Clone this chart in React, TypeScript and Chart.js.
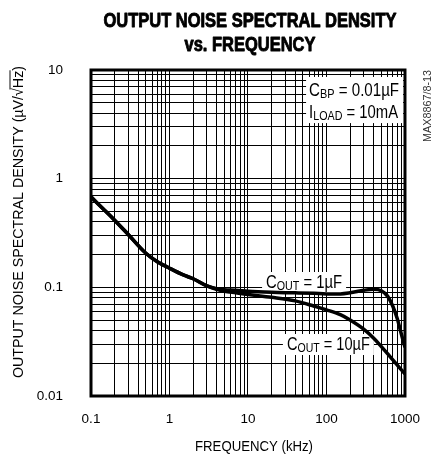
import React, { useEffect, useRef } from "react";
import { Chart, registerables } from "chart.js";

Chart.register(...registerables);

// ---- data ----
const freqKHz = [0.1, 0.15, 0.2, 0.3, 0.5, 0.7, 1, 1.5, 2, 3, 4, 5, 7, 10, 20, 40, 70, 100, 150, 200, 300, 400, 500, 600, 700, 800, 900, 1000];
const noiseCout1uF = [0.68, 0.51, 0.415, 0.305, 0.206, 0.172, 0.15, 0.13, 0.12, 0.103, 0.097, 0.095, 0.094, 0.092, 0.09, 0.089, 0.088, 0.087, 0.087, 0.089, 0.094, 0.096, 0.093, 0.083, 0.067, 0.051, 0.037, 0.028];
const noiseCout10uF = [0.68, 0.51, 0.415, 0.305, 0.206, 0.172, 0.15, 0.13, 0.12, 0.103, 0.096, 0.092, 0.089, 0.086, 0.081, 0.075, 0.067, 0.062, 0.056, 0.05, 0.041, 0.034, 0.0285, 0.0245, 0.0215, 0.0192, 0.0174, 0.016];

const xTickLabels = ["0.1", "1", "10", "100", "1000"];
const yTickLabels = ["0.01", "0.1", "1", "10"];
const minorSteps = [1, 2, 3, 4, 5, 6, 7, 8, 9];

const titleLines = ["OUTPUT NOISE SPECTRAL DENSITY", "vs. FREQUENCY"];
const xTitle = "FREQUENCY (kHz)";
const yTitleMain = "OUTPUT NOISE SPECTRAL DENSITY (\u00B5V/\u221A";
const yTitleRad = "Hz";
const yTitleEnd = ")";
const partNumber = "MAX8867/8-13";

const FONT = "'Liberation Sans Narrow', 'Liberation Sans', Arial, sans-serif";

function gridValues(decadeLabels: string[]): number[] {
  const out: number[] = [];
  const decs = decadeLabels.map(Number);
  for (let i = 0; i < decs.length - 1; i++) {
    for (const s of minorSteps) out.push(decs[i] * s);
  }
  out.push(decs[decs.length - 1]);
  return out;
}

function labelFor(list: string[], v: number): string {
  const s = list.find((l) => Math.abs(Number(l) / v - 1) < 1e-6);
  return s ?? "";
}

type Seg = { t: string; sub?: boolean };

const MAIN = 18;
const SUB = 13;

function richWidth(ctx: CanvasRenderingContext2D, segs: Seg[]) {
  let w = 0;
  for (const s of segs) {
    ctx.font = `${s.sub ? SUB : MAIN}px ${FONT}`;
    w += ctx.measureText(s.t).width;
  }
  return w;
}

function drawRich(ctx: CanvasRenderingContext2D, segs: Seg[], x: number, y: number, targetW: number) {
  const k = targetW / richWidth(ctx, segs);
  ctx.save();
  ctx.translate(x, y);
  ctx.scale(k, 1);
  ctx.textAlign = "left";
  ctx.textBaseline = "alphabetic";
  let cx = 0;
  for (const s of segs) {
    ctx.font = `${s.sub ? SUB : MAIN}px ${FONT}`;
    ctx.fillText(s.t, cx, s.sub ? 2 : 0);
    cx += ctx.measureText(s.t).width;
  }
  ctx.restore();
}

function fitText(ctx: CanvasRenderingContext2D, text: string, x: number, y: number, k: number, stroke = 0) {
  ctx.save();
  ctx.translate(x, y);
  ctx.scale(k, 1);
  ctx.textAlign = "center";
  ctx.fillText(text, 0, 0);
  if (stroke > 0) {
    ctx.lineWidth = stroke;
    ctx.strokeStyle = ctx.fillStyle as string;
    ctx.lineJoin = "round";
    ctx.strokeText(text, 0, 0);
  }
  ctx.restore();
}

const decorPlugin = {
  id: "decor",
  beforeDatasetsDraw(chart: any) {
    const ctx: CanvasRenderingContext2D = chart.ctx;
    const xs = chart.scales.x;
    const ys = chart.scales.y;
    ctx.save();
    const labels: { segs: Seg[]; fx: number; fy: number; w: number }[] = [
      { segs: [{ t: "C" }, { t: "BP", sub: true }, { t: " = 0.01\u00B5F" }], fx: 60, fy: 5.77, w: 90 },
      { segs: [{ t: "I" }, { t: "LOAD", sub: true }, { t: " = 10mA" }], fx: 60, fy: 3.61, w: 89 },
      { segs: [{ t: "C" }, { t: "OUT", sub: true }, { t: " = 1\u00B5F" }], fx: 17, fy: 0.0986, w: 76 },
      { segs: [{ t: "C" }, { t: "OUT", sub: true }, { t: " = 10\u00B5F" }], fx: 31.3, fy: 0.0265, w: 83 },
    ];
    const pos = labels.map((l) => ({ x: xs.getPixelForValue(l.fx), y: ys.getPixelForValue(l.fy) }));
    ctx.fillStyle = "#fff";
    ctx.fillRect(pos[0].x - 3, pos[0].y - 19, 97, pos[1].y - pos[0].y + 24);
    ctx.fillRect(pos[2].x - 4, pos[2].y - 16, labels[2].w + 8, 21);
    ctx.fillRect(pos[3].x - 4, pos[3].y - 16, labels[3].w + 8, 21);
    ctx.fillStyle = "#000";
    labels.forEach((l, i) => drawRich(ctx, l.segs, pos[i].x, pos[i].y, l.w));
    ctx.restore();
  },
  afterDraw(chart: any) {
    const ctx: CanvasRenderingContext2D = chart.ctx;
    const a = chart.chartArea;
    ctx.save();
    ctx.fillStyle = "#000";
    ctx.textBaseline = "alphabetic";

    // frame
    ctx.strokeStyle = "#000";
    ctx.lineWidth = 3;
    ctx.strokeRect(a.left, a.top, a.right - a.left, a.bottom - a.top);

    // title
    ctx.font = `bold 20px ${FONT}`;
    const tk = 293 / ctx.measureText(titleLines[0]).width;
    fitText(ctx, titleLines[0], 250, 27, tk, 0.9);
    fitText(ctx, titleLines[1], 250, 51, tk, 0.9);

    // x axis title
    ctx.font = `14px ${FONT}`;
    const xk = 118 / ctx.measureText(xTitle).width;
    fitText(ctx, xTitle, 254, 451, xk);

    // y axis title with overline on Hz
    ctx.save();
    ctx.translate(23, 222);
    ctx.rotate(-Math.PI / 2);
    ctx.font = `15.5px ${FONT}`;
    ctx.textAlign = "left";
    const w1 = ctx.measureText(yTitleMain).width;
    const w2 = ctx.measureText(yTitleRad).width;
    const w3 = ctx.measureText(yTitleEnd).width;
    const total = w1 + w2 + w3;
    const yk = 312 / total;
    ctx.scale(yk, 1);
    const sx = -total / 2;
    ctx.fillText(yTitleMain, sx, 0);
    ctx.fillText(yTitleRad, sx + w1, 0);
    ctx.fillText(yTitleEnd, sx + w1 + w2, 0);
    ctx.lineWidth = 1;
    ctx.beginPath();
    ctx.moveTo(sx + w1 - 1.5, -13);
    ctx.lineTo(sx + w1 + w2 + 0.5, -13);
    ctx.stroke();
    ctx.restore();

    // part number
    ctx.save();
    ctx.translate(431, 106);
    ctx.rotate(-Math.PI / 2);
    ctx.font = `10px ${FONT}`;
    ctx.fillStyle = "#333";
    fitText(ctx, partNumber, 0, 0, 72 / ctx.measureText(partNumber).width);
    ctx.restore();

    ctx.restore();
  },
};

export default function App() {
  const ref = useRef<HTMLCanvasElement | null>(null);
  useEffect(() => {
    document.body.style.margin = "0";
    const canvas = ref.current!;
    const xGrid = gridValues(xTickLabels);
    const yGrid = gridValues(yTickLabels);
    const chart = new Chart(canvas, {
      type: "line",
      data: {
        datasets: [
          {
            label: "COUT = 1uF",
            data: freqKHz.map((f, i) => ({ x: f, y: noiseCout1uF[i] })),
            borderColor: "#000",
            borderWidth: 3.5,
            pointRadius: 0,
            cubicInterpolationMode: "monotone",
            fill: false,
          },
          {
            label: "COUT = 10uF",
            data: freqKHz.map((f, i) => ({ x: f, y: noiseCout10uF[i] })),
            borderColor: "#000",
            borderWidth: 3.5,
            pointRadius: 0,
            cubicInterpolationMode: "monotone",
            fill: false,
          },
        ],
      },
      options: {
        responsive: false,
        animation: false,
        events: [],
        layout: { padding: { left: 0, top: 70, right: 17, bottom: 0 } },
        plugins: { legend: { display: false }, title: { display: false }, tooltip: { enabled: false } },
        scales: {
          x: {
            type: "logarithmic",
            min: 0.1,
            max: 1000,
            afterBuildTicks: (s: any) => {
              s.ticks = xGrid.map((v) => ({ value: v }));
            },
            afterFit: (s: any) => {
              s.height = 59;
            },
            grid: { color: "#000", lineWidth: 1, drawTicks: false },
            border: { display: false },
            ticks: {
              autoSkip: false,
              maxRotation: 0,
              padding: 15,
              color: "#000",
              font: { family: FONT, size: 13.5 },
              callback: (v: any) => labelFor(xTickLabels, Number(v)),
            },
          },
          y: {
            type: "logarithmic",
            min: 0.01,
            max: 10,
            afterBuildTicks: (s: any) => {
              s.ticks = yGrid.map((v) => ({ value: v }));
            },
            afterFit: (s: any) => {
              s.width = 91;
            },
            grid: { color: "#000", lineWidth: 1, drawTicks: false },
            border: { display: false },
            ticks: {
              autoSkip: false,
              padding: 28,
              color: "#000",
              font: { family: FONT, size: 13.5 },
              callback: (v: any) => labelFor(yTickLabels, Number(v)),
            },
          },
        },
      },
      plugins: [decorPlugin],
    } as any);
    return () => chart.destroy();
  }, []);
  return <canvas ref={ref} width={435} height={455} style={{ display: "block" }} />;
}
